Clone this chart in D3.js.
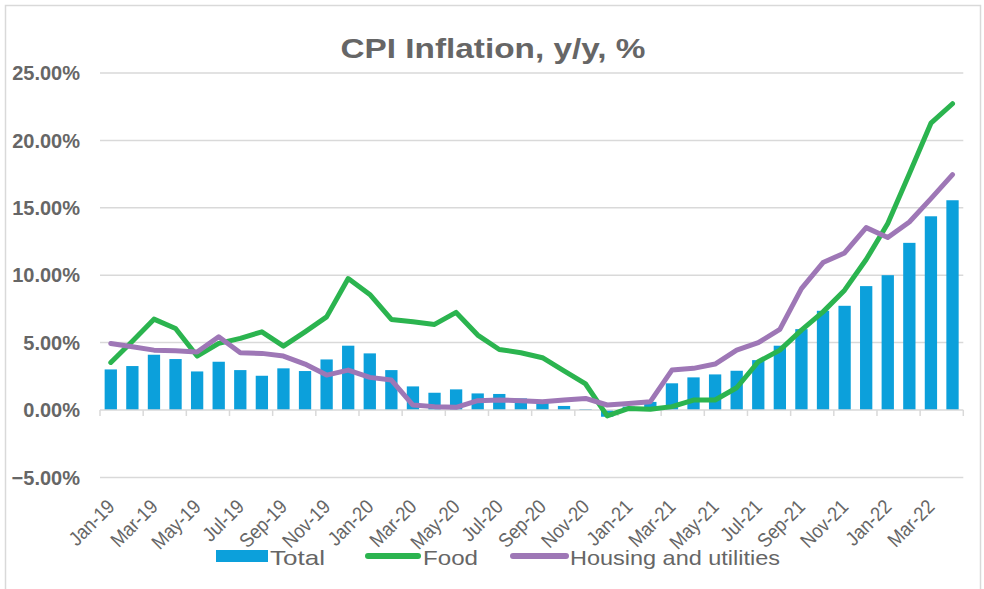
<!DOCTYPE html>
<html>
<head>
<meta charset="utf-8">
<script src="https://cdn.jsdelivr.net/npm/d3@7/dist/d3.min.js"></script>
<style>
  html, body { margin: 0; padding: 0; background: #fff; }
  svg { display: block; }
  text { font-family: "Liberation Sans", Arial, sans-serif; }
</style>
</head>
<body>
<script>
const months = ["Jan-19","Feb-19","Mar-19","Apr-19","May-19","Jun-19","Jul-19","Aug-19","Sep-19","Oct-19","Nov-19","Dec-19",
  "Jan-20","Feb-20","Mar-20","Apr-20","May-20","Jun-20","Jul-20","Aug-20","Sep-20","Oct-20","Nov-20","Dec-20",
  "Jan-21","Feb-21","Mar-21","Apr-21","May-21","Jun-21","Jul-21","Aug-21","Sep-21","Oct-21","Nov-21","Dec-21",
  "Jan-22","Feb-22","Mar-22","Apr-22"];

const total = [3.01,3.26,4.10,3.78,2.86,3.58,2.96,2.54,3.09,2.89,3.75,4.77,
  4.20,2.96,1.75,1.28,1.53,1.23,1.19,0.86,0.62,0.30,0.07,-0.50,
  0.25,0.60,1.98,2.42,2.64,2.91,3.70,4.77,6.00,7.36,7.73,9.19,
  10.00,12.40,14.37,15.56];

const food = [3.53,5.10,6.74,6.05,4.00,4.94,5.31,5.80,4.74,5.80,6.91,9.75,
  8.57,6.72,6.54,6.35,7.24,5.56,4.49,4.25,3.88,2.91,1.93,-0.44,
  0.12,0.05,0.25,0.74,0.74,1.65,3.58,4.44,5.93,7.28,8.89,11.16,
  13.83,17.53,21.28,22.72];

const housing = [4.94,4.69,4.44,4.40,4.30,5.43,4.25,4.20,4.00,3.41,2.59,2.96,
  2.42,2.22,0.37,0.25,0.20,0.69,0.74,0.69,0.62,0.74,0.86,0.37,
  0.49,0.62,2.96,3.09,3.41,4.44,4.99,5.98,9.01,10.94,11.65,13.53,
  12.79,13.95,15.68,17.46];

const yTicks = [-5, 0, 5, 10, 15, 20, 25];
const seriesNames = ["Total", "Food", "Housing and utilities"];
const title = "CPI Inflation, y/y, %";

const W = 984, H = 589;
const colors = { total: "#0ca0db", food: "#2bb44f", housing: "#9e77b6" };
const textColor = "#666666";
const gridColor = "#d9d9d9";

const svg = d3.select("body").append("svg").attr("width", W).attr("height", H);

// chart area border
svg.append("path")
  .attr("d", "M5.5,589 V5.5 H980.5 V589")
  .attr("fill", "none").attr("stroke", gridColor).attr("stroke-width", 1.5);

const x = d3.scaleBand().domain(months).range([100, 963.3]).paddingInner(0.43).paddingOuter(0.215);
const y = d3.scaleLinear().domain([-5, 25]).range([477.4, 73]);

// title
svg.append("text")
  .attr("x", 493).attr("y", 58)
  .attr("text-anchor", "middle")
  .attr("font-size", 28).attr("font-weight", "bold")
  .attr("fill", textColor)
  .attr("textLength", 305).attr("lengthAdjust", "spacingAndGlyphs")
  .text(title);

// gridlines
svg.append("g").selectAll("line")
  .data(yTicks.filter(d => d !== 0))
  .join("line")
  .attr("x1", 100).attr("x2", 963.3)
  .attr("y1", d => y(d)).attr("y2", d => y(d))
  .attr("stroke", gridColor).attr("stroke-width", 1.5);

// y labels
svg.append("g").selectAll("text")
  .data(yTicks)
  .join("text")
  .attr("x", 80).attr("y", d => y(d))
  .attr("dy", "0.36em")
  .attr("text-anchor", "end")
  .attr("font-size", 20).attr("font-weight", "bold")
  .attr("fill", textColor)
  .text(d => d3.format(".2f")(d) + "%");

// bars
svg.append("g").selectAll("rect")
  .data(months.map((m, i) => ({ m, v: total[i] })))
  .join("rect")
  .attr("x", d => x(d.m))
  .attr("width", x.bandwidth())
  .attr("y", d => Math.min(y(d.v), y(0)))
  .attr("height", d => Math.abs(y(d.v) - y(0)))
  .attr("fill", colors.total);

// zero axis line + ticks
const axisG = svg.append("g");
axisG.append("line")
  .attr("x1", 100).attr("x2", 963.3)
  .attr("y1", y(0)).attr("y2", y(0))
  .attr("stroke", gridColor).attr("stroke-width", 1.5);
const tickIdx = d3.range(0, months.length + 1, 2);
axisG.selectAll("line.tick")
  .data(tickIdx)
  .join("line")
  .attr("class", "tick")
  .attr("x1", i => 100 + i * x.step()).attr("x2", i => 100 + i * x.step())
  .attr("y1", y(0)).attr("y2", y(0) + 6)
  .attr("stroke", gridColor).attr("stroke-width", 1.5);

// lines
const line = d3.line()
  .x((d, i) => x(months[i]) + x.bandwidth() / 2)
  .y(d => y(d));

svg.append("path").datum(food)
  .attr("d", line).attr("fill", "none")
  .attr("stroke", colors.food).attr("stroke-width", 5)
  .attr("stroke-linejoin", "round").attr("stroke-linecap", "round");

svg.append("path").datum(housing)
  .attr("d", line).attr("fill", "none")
  .attr("stroke", colors.housing).attr("stroke-width", 5)
  .attr("stroke-linejoin", "round").attr("stroke-linecap", "round");

// x labels
svg.append("g").selectAll("text")
  .data(months.filter((m, i) => i % 2 === 0))
  .join("text")
  .attr("transform", m => `translate(${x(m) + x.bandwidth() / 2 + 5},${508}) rotate(-45) scale(0.9,1)`)
  .attr("text-anchor", "end")
  .attr("font-size", 20)
  .attr("fill", textColor)
  .text(m => m);

// legend
const lg = svg.append("g");
lg.append("rect").attr("x", 216).attr("y", 550).attr("width", 52).attr("height", 12).attr("fill", colors.total);
lg.append("line").attr("x1", 368).attr("x2", 418).attr("y1", 556).attr("y2", 556)
  .attr("stroke", colors.food).attr("stroke-width", 6).attr("stroke-linecap", "round");
lg.append("line").attr("x1", 513).attr("x2", 566).attr("y1", 556).attr("y2", 556)
  .attr("stroke", colors.housing).attr("stroke-width", 6).attr("stroke-linecap", "round");
const legTexts = [
  { t: seriesNames[0], x: 270, w: 55 },
  { t: seriesNames[1], x: 423, w: 55 },
  { t: seriesNames[2], x: 570, w: 210 }
];
lg.selectAll("text").data(legTexts).join("text")
  .attr("x", d => d.x).attr("y", 565)
  .attr("font-size", 21)
  .attr("fill", textColor)
  .attr("textLength", d => d.w).attr("lengthAdjust", "spacingAndGlyphs")
  .text(d => d.t);
</script>
</body>
</html>
